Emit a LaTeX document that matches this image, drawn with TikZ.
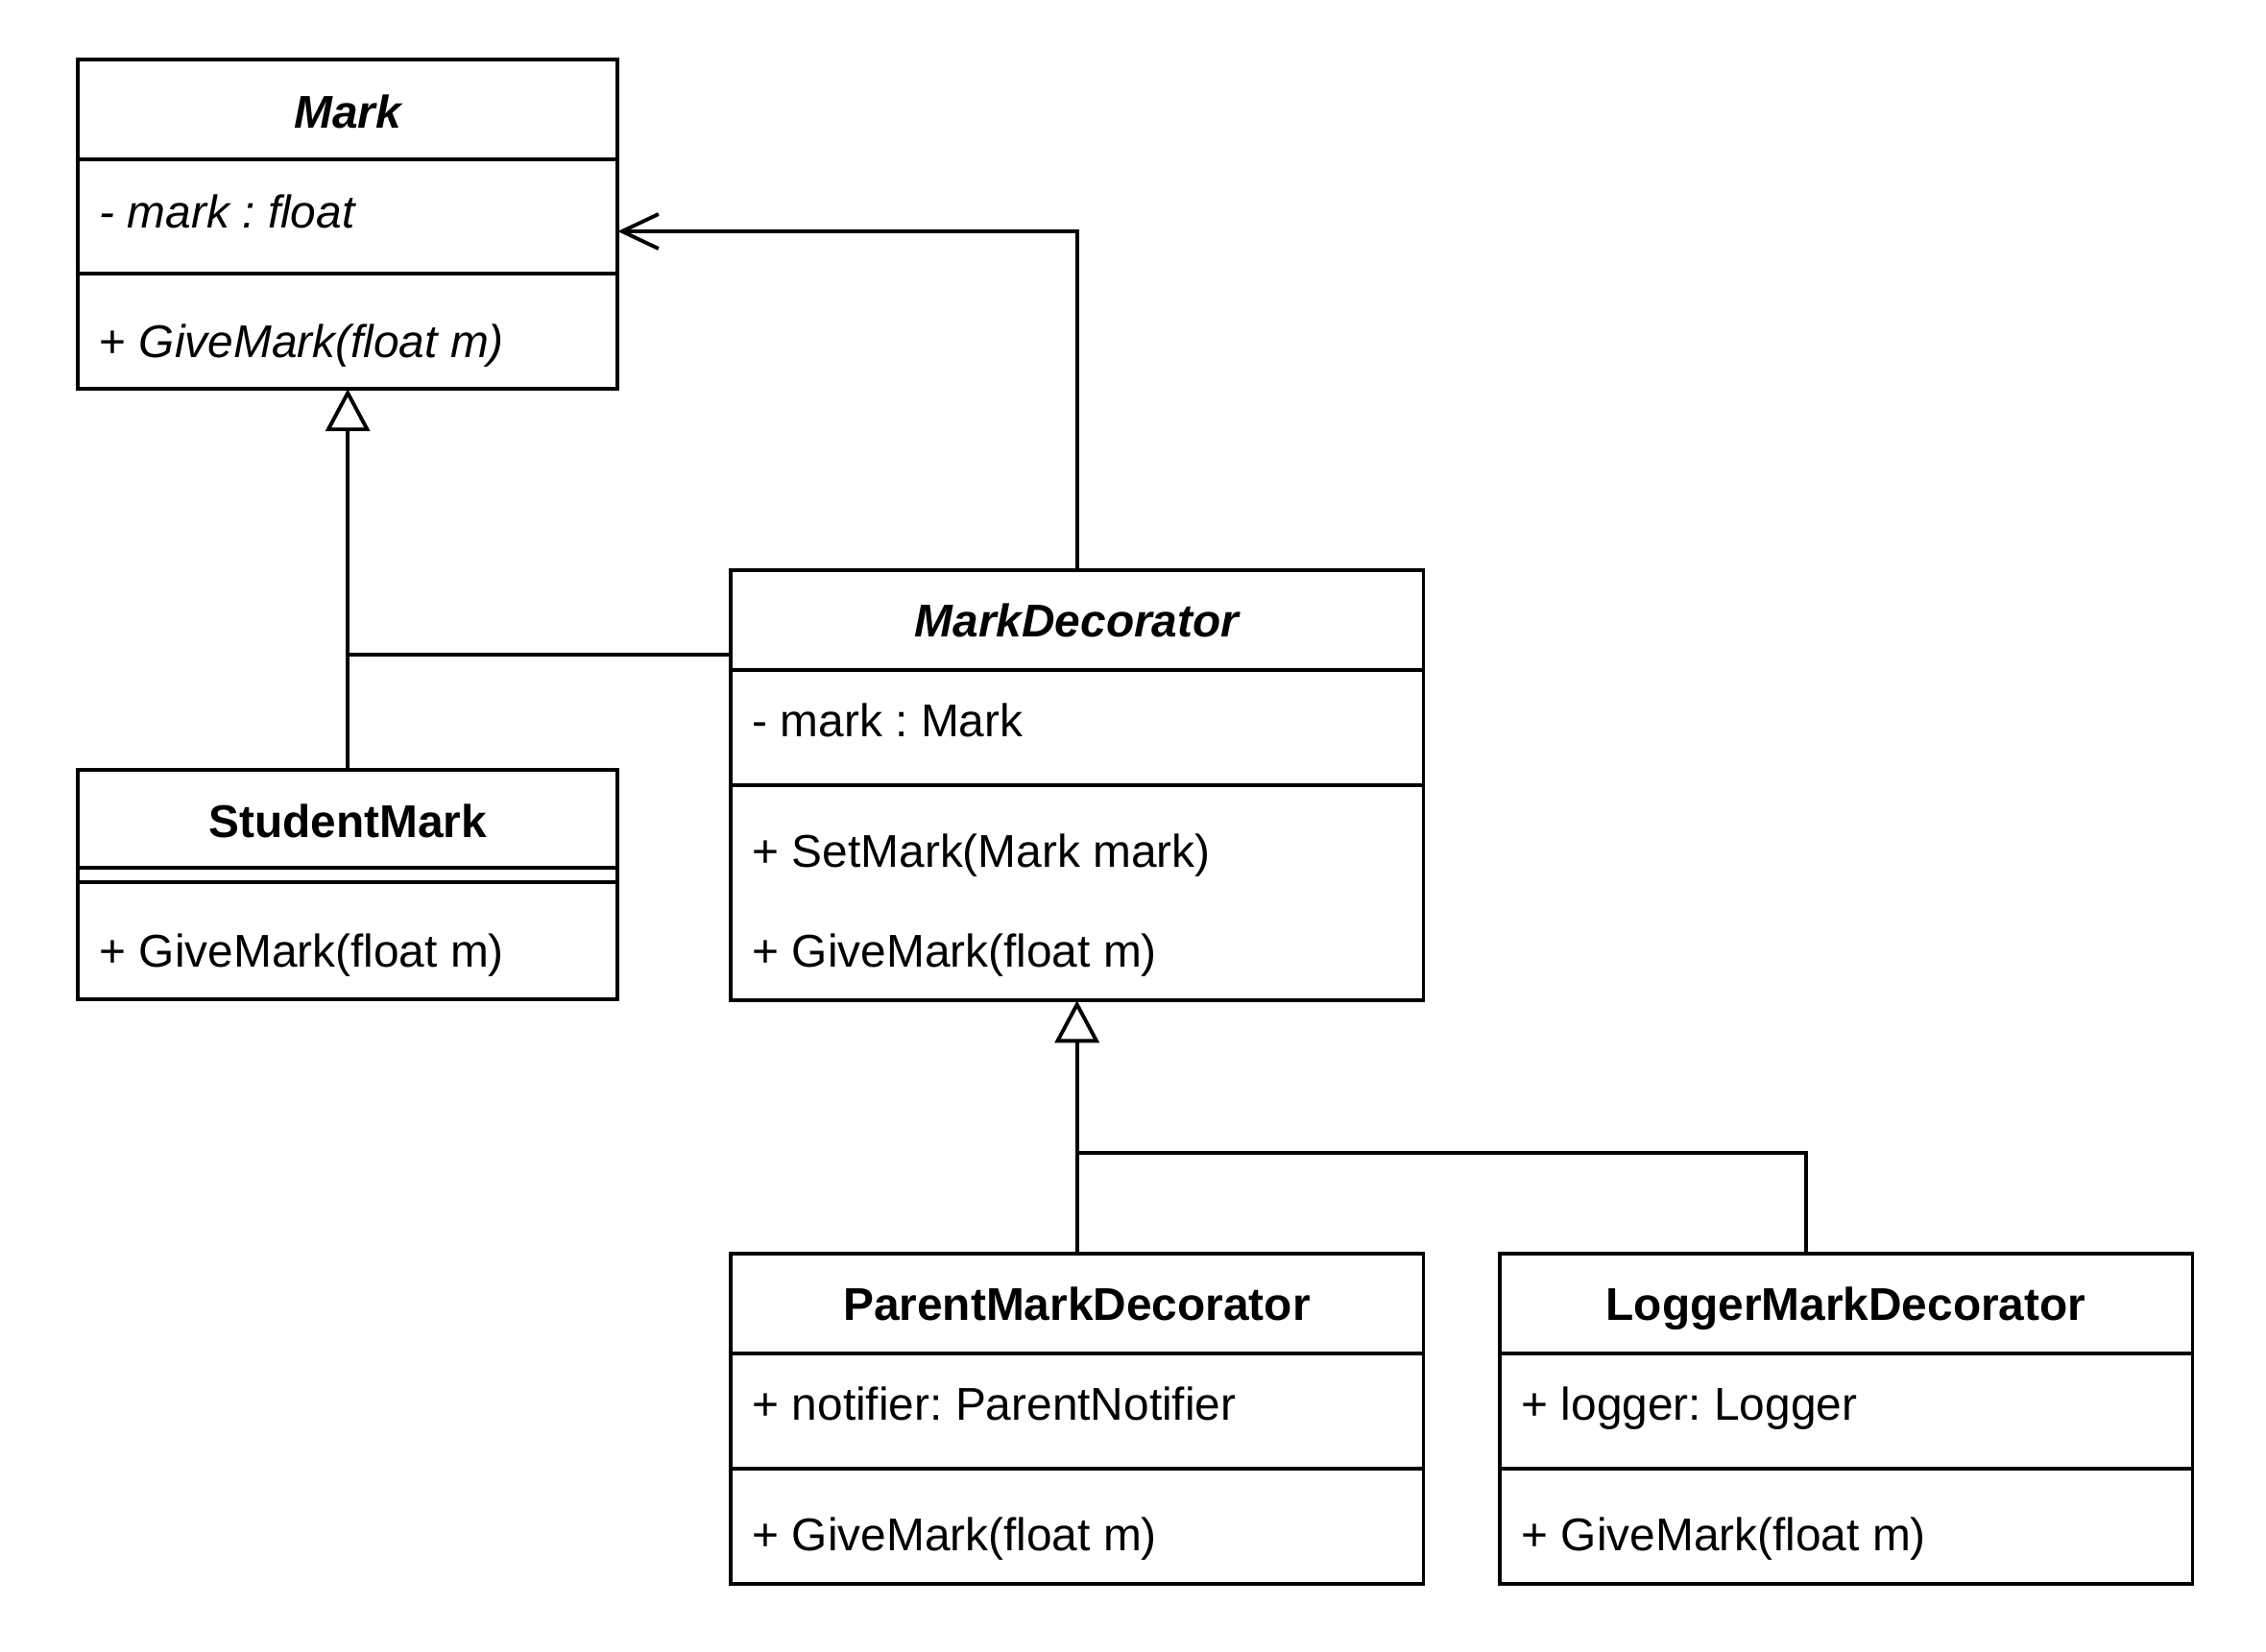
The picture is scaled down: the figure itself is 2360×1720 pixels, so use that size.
\documentclass[tikz,border=0pt]{standalone}
\usepackage{fontspec}
\setmainfont{Liberation Sans}
\usepackage{tikz}
\usetikzlibrary{positioning, arrows.meta, calc}
\frenchspacing

\tikzset{
  umlline/.style={line width=1.1pt},
  classbox/.style={draw, umlline, anchor=north west, inner sep=0pt, outer sep=0pt},
  classname/.style={inner sep=0pt, anchor=base, font=\fontsize{13.6pt}{16pt}\selectfont\bfseries},
  member/.style={inner sep=0pt, anchor=base west, font=\fontsize{13.6pt}{16pt}\selectfont},
  inherit/.style={umlline, -{Triangle[open, length=0.44cm, width=0.46cm]}},
  assoc/.style={umlline, -{Straight Barb[length=0.38cm, width=0.36cm]}},
}
\newcommand{\compline}[2]{\draw[umlline] (#1.west |- 0,#2) -- (#1.east |- 0,#2);}

\begin{document}
\begin{tikzpicture}[x=0.01cm, y=-0.01cm]
  \useasboundingbox (0,0) rectangle (2360,1720);

  % abstract component
  \node[classbox, minimum width=5.62cm, minimum height=3.43cm] (mark) at (81,62) {};
  \compline{mark}{166}
  \compline{mark}{285}
  \node[classname] (mark-name) at (362,133) {\itshape Mark};
  \node[member] (mark-attr) at (103,237) {\itshape - mark : float};
  \node[member] (mark-op) at (103,372) {+ \itshape GiveMark(float m)};

  % concrete component
  \node[classbox, minimum width=5.62cm, minimum height=2.39cm] (student) at (81,802) {};
  \compline{student}{904}
  \compline{student}{919}
  \node[classname] (student-name) at (362,872) {StudentMark};
  \node[member] (student-op) at (103,1007) {+ GiveMark(float m)};

  % decorator
  \node[classbox, minimum width=7.21cm, minimum height=4.48cm] (deco) at (761,594) {};
  \compline{deco}{698}
  \compline{deco}{818}
  \node[classname] (deco-name) at (1121.5,663) {\itshape MarkDecorator};
  \node[member] (deco-attr) at (783,767) {- mark : Mark};
  \node[member] (deco-set) at (783,903) {+ SetMark(Mark mark)};
  \node[member] (deco-op) at (783,1007) {+ GiveMark(float m)};

  % concrete decorators
  \node[classbox, minimum width=7.21cm, minimum height=3.44cm] (parent) at (761,1306) {};
  \compline{parent}{1410}
  \compline{parent}{1530}
  \node[classname] (parent-name) at (1121.5,1375) {ParentMarkDecorator};
  \node[member] (parent-attr) at (783,1479) {+ notifier: ParentNotifier};
  \node[member] (parent-op) at (783,1615) {+ GiveMark(float m)};

  \node[classbox, minimum width=7.21cm, minimum height=3.44cm] (logger) at (1562,1306) {};
  \compline{logger}{1410}
  \compline{logger}{1530}
  \node[classname] (logger-name) at (1922.5,1375) {LoggerMarkDecorator};
  \node[member] (logger-attr) at (1584,1479) {+ logger: Logger};
  \node[member] (logger-op) at (1584,1615) {+ GiveMark(float m)};

  % relations
  \coordinate (join) at (362,682);
  \coordinate (markin) at (mark.east |- 0,241);
  \coordinate (loggerout) at (1881,1306);
  \coordinate (split) at (1121.5,1201);

  \draw[inherit] (student.north) -- (mark.south);
  \draw[umlline] (deco.west |- join) -- (join);
  \draw[assoc] (deco.north) |- (markin);
  \draw[inherit] (parent.north) -- (deco.south);
  \draw[umlline] (loggerout) |- (split);
\end{tikzpicture}
\end{document}
